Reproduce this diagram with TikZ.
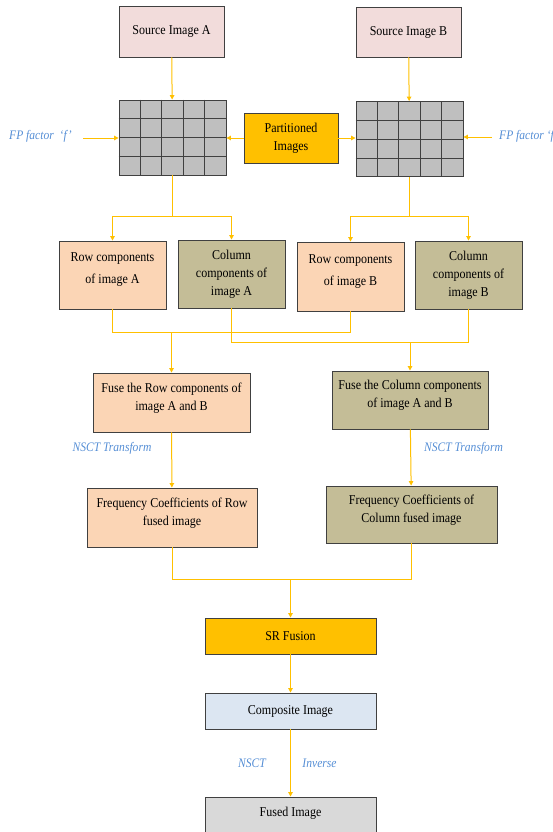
\documentclass[tikz,border=0pt]{standalone}
\usepackage{fontspec}
\setmainfont{Liberation Serif}[FakeStretch=0.89]
\usetikzlibrary{arrows.meta,positioning,calc}
\definecolor{gold}{HTML}{FFC000}
\definecolor{edge}{HTML}{404040}
\definecolor{pinkfill}{HTML}{F2DCDB}
\definecolor{peach}{HTML}{FBD5B5}
\definecolor{khaki}{HTML}{C4BD97}
\definecolor{paleblue}{HTML}{DCE6F2}
\definecolor{palegray}{HTML}{D9D9D9}
\definecolor{cellgray}{HTML}{BFBFBF}
\definecolor{notec}{HTML}{558ED5}

\begin{document}
\begin{tikzpicture}[x = 1pt, y = -1pt, >={Triangle[width=4.5pt,length=4.5pt]},
  blk/.style={draw=edge, line width=0.9pt, align=center, inner sep=0pt, font=\fontsize{13.5}{18}\selectfont},
  flow/.style={draw=gold, line width=1pt},
  note/.style={text=notec, font=\itshape\fontsize{13}{15}\selectfont},
  gridbox/.style={draw=edge, line width=0.9pt, fill=cellgray, minimum width=107pt, minimum height=75pt}]
\useasboundingbox (0,0) rectangle (553,832);

\node[blk, fill=pinkfill, minimum width=105pt, minimum height=51pt] (srcA) at (171.5, 31.5) {Source Image A};
\node[blk, fill=pinkfill, minimum width=105pt, minimum height=50pt] (srcB) at (408.5, 32) {Source Image B};
\node[gridbox] (gridA) at (172.5, 137.5) {};
\node[gridbox] (gridB) at (409.5, 139) {};
\node[blk, fill=gold, minimum width=94pt, minimum height=50pt] (part) at (291, 138) {Partitioned\\Images};
\foreach \g in {gridA, gridB} {
  \foreach \i in {1,...,4}
    \draw[edge, line width=0.9pt] ($(\g.north west)!\i/5!(\g.north east)$) -- ($(\g.south west)!\i/5!(\g.south east)$);
  \foreach \j in {1,...,3}
    \draw[edge, line width=0.9pt] ($(\g.north west)!\j/4!(\g.south west)$) -- ($(\g.north east)!\j/4!(\g.south east)$);
}
\node[note, anchor=west, inner sep=0pt] (fpA) at (9, 136) {FP factor \ `f'};
\node[note, anchor=west, inner sep=0pt] (fpB) at (499, 136) {FP factor `f'};
\coordinate (inA) at (83, 138);
\coordinate (inB) at (492, 137);

\node[blk, fill=peach, minimum width=107pt, minimum height=68pt, font=\fontsize{13.5}{22}\selectfont, text depth=13.5pt] (rowA) at (112.5, 275) {Row components\\of image A};
\node[blk, fill=khaki, minimum width=107pt, minimum height=68pt] (colA) at (231.5, 274) {Column\\components of\\image A};
\node[blk, fill=peach, minimum width=107pt, minimum height=69pt, font=\fontsize{13.5}{22}\selectfont, text depth=13.5pt] (rowB) at (350.5, 276.5) {Row components\\of image B};
\node[blk, fill=khaki, minimum width=107pt, minimum height=68pt] (colB) at (468.5, 275) {Column\\components of\\image B};

\node[blk, fill=peach, minimum width=157pt, minimum height=59pt, text depth=11.5pt] (fuseR) at (171.5, 402.5) {Fuse the Row components of\\image A and B};
\node[blk, fill=khaki, minimum width=156pt, minimum height=58pt, text depth=12pt] (fuseC) at (410, 400) {Fuse the Column components\\of image A and B};
\node[note] (nsA) at (112, 448) {NSCT Transform};
\node[note] (nsB) at (463.5, 448) {NSCT Transform};
\node[blk, fill=peach, minimum width=170pt, minimum height=59pt, text depth=12pt] (freqR) at (172, 517.5) {Frequency Coefficients of Row\\fused image};
\node[blk, fill=khaki, minimum width=171pt, minimum height=57pt, text depth=11.5pt] (freqC) at (411.5, 514.5) {Frequency Coefficients of\\Column fused image};

\node[blk, fill=gold, minimum width=171pt, minimum height=36pt] (sr) at (290.5, 636) {SR Fusion};
\node[blk, fill=paleblue, minimum width=171pt, minimum height=36pt] (comp) at (290.5, 711) {Composite Image};
\node[note] (nsC) at (252, 763) {NSCT};
\node[note] (inv) at (319.5, 763) {Inverse};
\node[blk, fill=palegray, minimum width=171pt, minimum height=38pt, text depth=9pt] (fused) at (290.5, 816) {Fused Image};

\coordinate (splitA) at (gridA.south |- 0, 216);
\coordinate (splitB) at (gridB.south |- 0, 216);
\coordinate (rowj) at (fuseR.north |- 0, 332);
\coordinate (colj) at (fuseC.north |- 0, 342);
\coordinate (freqj) at (sr.north |- 0, 579);

\draw[flow, ->] (srcA) -- (gridA);
\draw[flow, ->] (srcB) -- (gridB);
\draw[flow, ->] (part.west) -- (part.west -| gridA.east);
\draw[flow, ->] (part.east) -- (part.east -| gridB.west);
\draw[flow, ->] (inA) -- (inA -| gridA.west);
\draw[flow, ->] (inB) -- (inB -| gridB.east);

\draw[flow] (gridA) -- (splitA);
\draw[flow] (rowA.north |- splitA) -- (colA.north |- splitA);
\draw[flow, ->] (rowA.north |- splitA) -- (rowA);
\draw[flow, ->] (colA.north |- splitA) -- (colA);
\draw[flow] (gridB) -- (splitB);
\draw[flow] (rowB.north |- splitB) -- (colB.north |- splitB);
\draw[flow, ->] (rowB.north |- splitB) -- (rowB);
\draw[flow, ->] (colB.north |- splitB) -- (colB);

\draw[flow] (rowA.south) |- (rowB.south |- rowj) -- (rowB.south);
\draw[flow, ->] (rowj) -- (fuseR);
\draw[flow] (colA.south) |- (colB.south |- colj) -- (colB.south);
\draw[flow, ->] (colj) -- (fuseC);

\draw[flow, ->] (fuseR) -- (freqR);
\draw[flow, ->] (fuseC) -- (freqC);
\draw[flow] (freqR.south) |- (freqC.south |- freqj) -- (freqC.south);
\draw[flow, ->] (freqj) -- (sr);
\draw[flow, ->] (sr) -- (comp);
\draw[flow, ->] (comp) -- (fused);

\end{tikzpicture}
\end{document}
